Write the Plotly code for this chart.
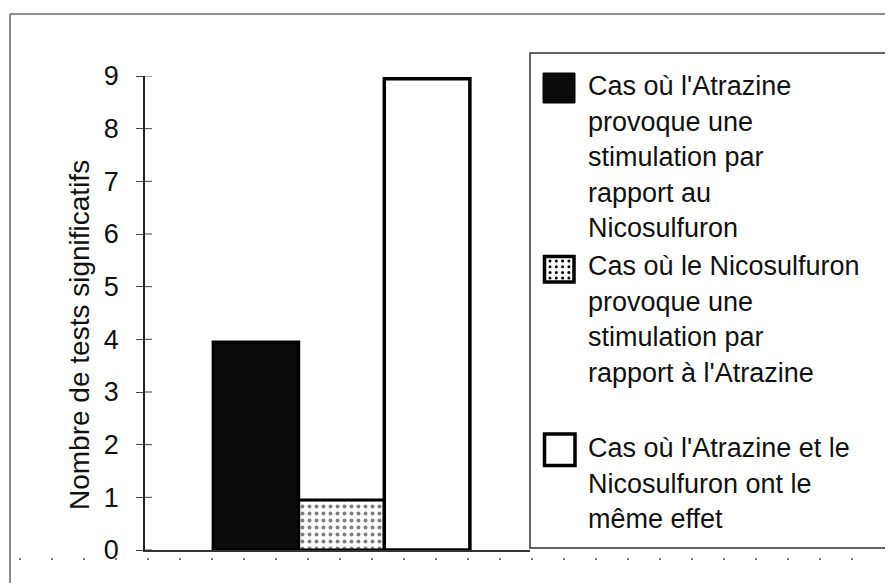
import plotly.graph_objects as go

# ---------------- data ----------------
categories = ["Tests"]
series_names = [
    "Cas où l'Atrazine<br>provoque une<br>stimulation par<br>rapport au<br>Nicosulfuron",
    "Cas où le Nicosulfuron<br>provoque une<br>stimulation par<br>rapport à l'Atrazine",
    "Cas où l'Atrazine et le<br>Nicosulfuron ont le<br>même effet",
]
atrazine_stim = [3.95]
nicosulfuron_stim = [0.95]
meme_effet = [8.95]
y_ticks = [0, 1, 2, 3, 4, 5, 6, 7, 8, 9]
y_title = "Nombre de tests significatifs"

# ---------------- layout helpers (page pixel coordinates) ----------------
OFF = 8                      # default body margin of the html page
W, H = 893 - OFF, 583 - OFF  # figure size
# plot area in page coordinates
PL, PR, PT, PB = 145, 530, 76, 550
ML, MT = PL - OFF, PT - OFF
MR, MB = W - (PR - OFF), H - (PB - OFF)
PW, PH = PR - PL, PB - PT
FONT = "Liberation Sans, Arial, sans-serif"


def px(x):
    return (x - PL) / PW


def py(y):
    return (PB - y) / PH


fig = go.Figure()
fig.add_trace(go.Bar(
    x=categories, y=atrazine_stim, name=series_names[0],
    marker=dict(color="#0b0b0b", line=dict(color="#000", width=3)),
))
fig.add_trace(go.Bar(
    x=categories, y=nicosulfuron_stim, name=series_names[1],
    marker=dict(color="white", line=dict(color="#000", width=3),
                pattern=dict(shape=".", fgcolor="#000", bgcolor="white",
                             size=7, solidity=0.25)),
))
fig.add_trace(go.Bar(
    x=categories, y=meme_effet, name=series_names[2],
    marker=dict(color="white", line=dict(color="#000", width=3.5)),
))

shapes = []
# outer frame (top and left edges visible)
shapes.append(dict(type="line", xref="paper", yref="paper",
                   x0=px(10), x1=px(905), y0=py(14), y1=py(14),
                   line=dict(color="#666", width=1.5)))
shapes.append(dict(type="line", xref="paper", yref="paper",
                   x0=px(10), x1=px(10), y0=py(14), y1=py(595),
                   line=dict(color="#666", width=1.5)))
# dotted row below the axis
shapes.append(dict(type="line", xref="paper", yref="paper",
                   x0=px(19), x1=px(880), y0=py(559), y1=py(559),
                   line=dict(color="#777", width=2, dash="2px,30px")))
# inner half of the crossing y ticks
for t in y_ticks:
    shapes.append(dict(type="line", xref="paper", yref="y",
                       x0=0, x1=px(PL + 7), y0=t, y1=t,
                       line=dict(color="#444", width=1)))
# legend box
shapes.append(dict(type="rect", xref="paper", yref="paper",
                   x0=px(530), x1=px(905), y0=py(548), y1=py(53),
                   line=dict(color="#333", width=1.5), fillcolor="rgba(0,0,0,0)"))
# legend swatches
shapes.append(dict(type="rect", xref="paper", yref="paper",
                   x0=px(543), x1=px(575), y0=py(103), y1=py(73),
                   line=dict(color="#000", width=1), fillcolor="#0b0b0b"))
shapes.append(dict(type="rect", xref="paper", yref="paper",
                   x0=px(544.5), x1=px(574), y0=py(282), y1=py(256.5),
                   line=dict(color="#000", width=3.5), fillcolor="white"))
for i in range(4):
    for j in range(4):
        cx = 550 + i * 6.3
        cy = 261 + j * 5.7
        shapes.append(dict(type="circle", xref="paper", yref="paper",
                           x0=px(cx - 1.5), x1=px(cx + 1.5),
                           y0=py(cy + 1.5), y1=py(cy - 1.5),
                           line=dict(width=0), fillcolor="#000"))
shapes.append(dict(type="rect", xref="paper", yref="paper",
                   x0=px(544.5), x1=px(575), y0=py(465.5), y1=py(434),
                   line=dict(color="#000", width=3.5), fillcolor="white"))

annotations = []
first_line_y = [86, 266, 448]
for name, y0 in zip(series_names, first_line_y):
    for k, line in enumerate(name.split("<br>")):
        annotations.append(dict(
            text=line, xref="paper", yref="paper",
            x=px(586), y=py(y0 + k * 35.5), xanchor="left", yanchor="middle",
            showarrow=False, font=dict(family=FONT, size=27, color="#111")))
annotations.append(dict(
    text=y_title, xref="paper", yref="paper", x=px(79), y=py(335),
    xanchor="center", yanchor="middle", textangle=-90, showarrow=False,
    font=dict(family=FONT, size=28, color="#111")))

shift = 4 / PW
fig.update_layout(
    width=W, height=H,
    margin=dict(l=ML, r=MR, t=MT, b=MB, pad=0),
    paper_bgcolor="white", plot_bgcolor="white",
    showlegend=False,
    barmode="group", bargap=0.333, bargroupgap=0,
    font=dict(family=FONT, size=27, color="#111"),
    xaxis=dict(type="category", range=[-0.5 - shift, 0.5 - shift],
               showticklabels=False, ticks="",
               showline=True, linecolor="#333", linewidth=1.5,
               showgrid=False, zeroline=False),
    yaxis=dict(range=[0, 9], tickvals=y_ticks, ticks="outside", ticklen=7,
               tickwidth=1, tickcolor="#444", showline=True,
               linecolor="#222", linewidth=1.5, showgrid=False,
               zeroline=False, ticklabelstandoff=12,
               tickfont=dict(family=FONT, size=27, color="#111")),
    shapes=shapes, annotations=annotations,
)

fig.write_html("out.html")
